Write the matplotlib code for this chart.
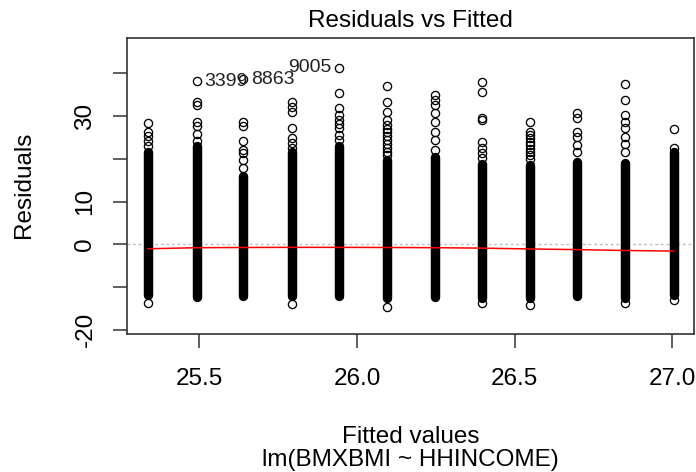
import matplotlib
matplotlib.use("Agg")
import matplotlib.pyplot as plt

# residuals vs fitted, redrawn from an R plot.lm() picture
# fitted values: one column per HHINCOME level
fitted = [25.337, 25.492, 25.639, 25.794, 25.943, 26.096,
          26.248, 26.397, 26.549, 26.698, 26.850, 27.005]

# dense part of each column (where the circles merge into a black bar)
solid_lo = [-11.8, -12.3, -12.0, -12.0, -12.0, -12.5,
            -12.3, -12.5, -12.5, -12.0, -12.5, -11.8]
solid_hi = [21.5, 23.0, 16.0, 21.5, 23.0, 19.8,
            20.5, 18.8, 18.5, 19.3, 19.0, 21.5]

# single residuals that stand out from each column
loose = [
    [28.5, 26.4, 25.3, 24.2, 23.1, -13.8],
    [38.2, 33.4, 32.6, 28.7, 27.7, 25.8, 24.3],
    [38.6, 28.7, 27.7, 24.2, 22.1, 21.4, 19.7, 17.8],
    [33.4, 32.2, 31.0, 27.2, 24.9, 23.7, 22.5, -13.9],
    [41.4, 35.4, 31.8, 30.3, 29.1, 28.2, 27.2, 25.6, 24.5],
    [37.0, 33.4, 31.0, 29.1, 27.9, 27.1, 26.2, 25.3, 24.4, 23.5, 22.6, 21.7, 20.8, -14.6],
    [35.0, 33.8, 32.6, 30.7, 28.7, 26.4, 24.4, 22.1],
    [38.1, 35.7, 29.5, 29.1, 24.0, 22.5, 21.3, 20.2, -13.7],
    [28.7, 26.4, 25.6, 24.8, 24.0, 23.2, 22.4, 21.6, 20.8, 20.0, -14.2],
    [30.7, 29.5, 26.4, 25.2, 23.3, 21.7],
    [37.6, 33.8, 30.3, 28.7, 27.2, 25.2, 23.6, 21.7, -13.8],
    [26.9, 22.5, -13.0],
]

# lowess smooth, one value per column
smooth = [-1.05, -0.8, -0.75, -0.72, -0.72, -0.75,
          -0.8, -0.9, -1.1, -1.25, -1.45, -1.6]

# labelled points
id_text = ["3399", "8863", "9005"]
id_col = [1, 2, 4]
id_res = [38.2, 38.6, 41.4]

xticks = [25.5, 26.0, 26.5, 27.0]
xlabels = ["25.5", "26.0", "26.5", "27.0"]
yticks = [-20, -10, 0, 10, 20, 30, 40]
ylabels = ["-20", "", "0", "10", "", "30", ""]

plt.rcParams["font.family"] = ["Liberation Sans", "DejaVu Sans"]
fs = 17.5
edge = "#333333"

fig = plt.figure(figsize=(6.96, 4.72), dpi=100)
ax = fig.add_axes([0.18247, 0.29174, 0.81509, 0.62775])

# y = 0 reference line
ax.axhline(0, color="#bebebe", lw=1.0, ls=(0, (2, 2)), zorder=1)

for i in range(len(fitted)):
    ax.plot([fitted[i], fitted[i]], [solid_lo[i], solid_hi[i]], color="black",
            lw=6.8, solid_capstyle="round", zorder=2)
    ax.plot([fitted[i]] * len(loose[i]), loose[i], "o", mfc="none", mec="black",
            ms=5.9, mew=0.95, zorder=3)

ax.plot(fitted, smooth, color="red", lw=1.1, zorder=4)

for t, c, r in zip(id_text, id_col, id_res):
    if c == 4:
        ax.annotate(t, (fitted[c], r), xytext=(-5.5, 0), textcoords="offset points",
                    ha="right", va="center", fontsize=14, color="#222222")
    else:
        ax.annotate(t, (fitted[c], r), xytext=(5.5, 0), textcoords="offset points",
                    ha="left", va="center", fontsize=14, color="#222222")

ax.set_xlim(25.2708, 27.0698)
ax.set_ylim(-21.08, 48.31)

ax.set_xticks(xticks)
ax.set_xticklabels(xlabels, fontsize=fs)
ax.set_yticks(yticks)
ax.set_yticklabels(ylabels, fontsize=fs, rotation=90, va="center")
ax.tick_params(axis="both", direction="out", length=10, width=1.1, color=edge)
ax.tick_params(axis="x", pad=14)
ax.tick_params(axis="y", pad=12)

for s in ax.spines.values():
    s.set_color(edge)
    s.set_linewidth(1.2)

ax.set_title("Residuals vs Fitted", fontsize=fs, pad=8)
fig.text(24 / 696, 0.6075, "Residuals", rotation=90, ha="center", va="center", fontsize=fs)
fig.text(0.5897, 1 - 443 / 472, "Fitted values", ha="center", va="baseline", fontsize=fs)
fig.text(0.5897, 1 - 466 / 472, "lm(BMXBMI ~ HHINCOME)", ha="center", va="baseline", fontsize=fs)

fig.savefig("out.png", dpi=100)
